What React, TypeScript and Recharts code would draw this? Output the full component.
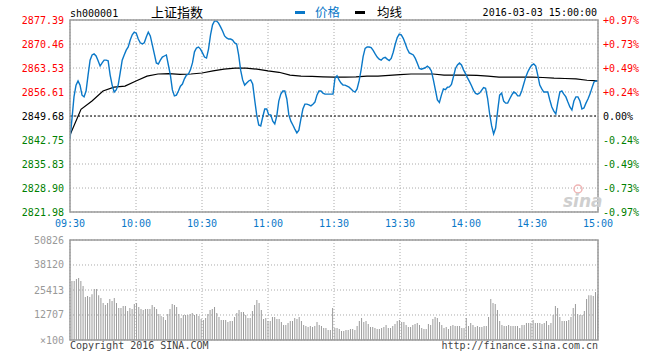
import React from "react";
import {
  LineChart,
  Line,
  BarChart,
  Bar,
  XAxis,
  YAxis,
  CartesianGrid,
  ReferenceLine,
} from "recharts";

const MONO = '"DejaVu Sans Mono", "Liberation Mono", monospace';
const CJK = '"Noto Sans CJK SC", "Noto Sans", sans-serif';

const BLUE = "#0a78c8";
const UP = "#ff0000";
const DOWN = "#008000";

// previous close, the 0.00% line
const PREV_CLOSE = 2849.68;

const PRICE_TICKS = [2877.39, 2870.46, 2863.53, 2856.61, 2849.68, 2842.75, 2835.83, 2828.9, 2821.98];
const VOL_TICKS = [0, 12707, 25413, 38120, 50826];

// trading minutes from 09:30, lunch break folded out
const TIME_TICKS = [0, 30, 60, 90, 120, 150, 180, 210, 240];
const TIME_LABELS = ["09:30", "10:00", "10:30", "11:00", "11:30", "13:30", "14:00", "14:30", "15:00"];

// index price, sampled roughly every minute
const PRICE = [
  2843.0, 2849.0, 2855.3, 2858.6, 2859.8, 2858.6, 2855.7, 2855.2, 2856.9, 2861.5,
  2865.8, 2867.3, 2867.6, 2867.0, 2865.6, 2864.1, 2865.0, 2865.8, 2865.8, 2865.6,
  2861.5, 2858.6, 2856.6, 2857.2, 2858.6, 2862.1, 2865.8, 2867.3, 2868.7, 2869.6,
  2871.6, 2873.1, 2873.9, 2873.6, 2871.9, 2870.8, 2870.5, 2870.8, 2872.5, 2873.9,
  2872.8, 2870.2, 2867.6, 2865.0, 2864.7, 2865.8, 2866.7, 2867.0, 2867.3, 2864.4,
  2861.5, 2857.2, 2855.5, 2855.7, 2856.9, 2858.3, 2858.9, 2860.4, 2861.5, 2861.8,
  2863.0, 2865.0, 2868.2, 2869.3, 2869.6, 2869.0, 2867.9, 2866.7, 2866.4, 2869.0,
  2873.1, 2876.0, 2877.1, 2877.1, 2876.5, 2875.4, 2874.2, 2872.8, 2872.2, 2871.9,
  2871.9, 2871.6, 2870.8, 2870.5, 2867.3, 2862.9, 2860.1, 2858.6, 2859.2,
  2859.8, 2860.1, 2858.9, 2854.3, 2850.0, 2847.1, 2846.8, 2849.4, 2851.7, 2851.7,
  2850.0, 2850.0, 2848.2, 2847.4, 2849.7, 2854.0, 2856.0, 2856.9, 2856.9, 2854.6,
  2850.0, 2848.2, 2847.1, 2845.9, 2844.8, 2845.6, 2848.8, 2851.7, 2853.1, 2853.1,
  2852.9, 2852.6, 2853.1, 2853.7, 2855.7, 2856.9, 2856.9, 2856.3, 2856.0, 2856.0,
  2856.0, 2856.0, 2856.0, 2860.6, 2861.3, 2860.1, 2859.2, 2858.6, 2858.6, 2858.3,
  2858.0, 2857.5, 2856.9, 2856.6, 2857.5, 2859.8, 2863.0, 2866.8, 2869.2, 2869.6,
  2869.6, 2869.4, 2868.6, 2867.6, 2866.7, 2866.1, 2865.8, 2866.4, 2866.6, 2866.1,
  2865.7, 2866.3, 2868.1, 2870.4, 2872.3, 2873.3, 2873.1, 2872.1, 2870.6, 2869.0,
  2867.9, 2867.6, 2867.3, 2866.3, 2864.9, 2863.4,
  2863.2, 2863.4, 2863.6, 2864.1, 2863.6, 2862.7, 2860.1, 2857.2, 2854.3, 2853.6,
  2855.7, 2857.5, 2857.3, 2858.0, 2858.1, 2858.8, 2861.0, 2863.4, 2864.4, 2865.0,
  2864.4, 2863.0, 2861.9, 2860.7, 2859.6, 2858.4, 2857.1, 2856.2, 2856.0, 2856.3,
  2857.1, 2857.9, 2857.7, 2854.8, 2850.4, 2846.9, 2844.5, 2846.2, 2851.1, 2855.7,
  2856.3, 2854.0, 2853.4, 2853.4, 2854.6, 2855.7, 2856.6, 2856.3, 2855.5, 2855.5,
  2856.9, 2858.9, 2860.9, 2862.4, 2863.5, 2864.4, 2864.7, 2864.1, 2861.5, 2858.6,
  2857.5, 2856.6, 2856.6, 2856.6, 2854.3, 2852.3, 2851.1, 2850.3, 2853.7, 2856.6,
  2856.9, 2856.0, 2855.2, 2853.7, 2852.3, 2851.4, 2854.0, 2855.2, 2855.2, 2854.0,
  2851.7, 2852.0, 2853.4, 2854.6, 2856.0, 2857.8, 2859.5, 2859.8, 2859.8,
];

// average price line, every 5 minutes
const AVG = [
  2844.2, 2851.6, 2854.0, 2856.9, 2858.0, 2858.3, 2859.8, 2861.2, 2861.8, 2861.9,
  2861.7, 2861.8, 2862.1, 2862.7, 2863.2, 2863.5, 2863.5, 2863.2, 2862.7, 2862.3,
  2861.5, 2861.2, 2861.1, 2861.0, 2860.9, 2860.9, 2861.0, 2861.2, 2861.2, 2861.4,
  2861.6, 2861.8, 2861.8, 2861.8, 2861.5, 2861.5, 2861.5, 2861.4, 2861.2, 2860.9,
  2860.9, 2860.9, 2860.9, 2860.8, 2860.6, 2860.5, 2860.4, 2860.0, 2859.8,
];

// volume per minute (x100 shares)
const VOLUME = [
  30000, 30000, 31000, 31500, 30000, 27400, 21800, 22300, 21800, 23300,
  25900, 25900, 22800, 21300, 18800, 17800, 18800, 20800, 19800, 21300,
  18800, 16300, 16300, 17300, 17300, 14700, 16300, 15800, 18300, 18800,
  16800, 15800, 15200, 15800, 15800, 15800, 17800, 16800, 15800, 13200,
  12200, 11700, 10200, 13200, 15800, 18300, 17800, 16800, 13200, 11200,
  12700, 12700, 12700, 13200, 13700, 12700, 13200, 12200, 10700, 10200,
  11200, 13200, 15200, 15800, 16800, 13700, 11700, 10200, 10200, 10200,
  9200, 9700, 9700, 11700, 13700, 15200, 14200, 14200,
  12700, 11200, 11200, 14700, 17800, 20300, 18800, 15200, 10700, 11200,
  9700, 9700, 11700, 11700, 10700, 10700, 9200, 7600, 7600, 8700,
  9700, 9700, 11200, 10700, 11700, 9700, 7600, 7100, 6600, 7100,
  6600, 7100, 9200, 7600, 7100, 6100, 6100, 5100, 5100, 16300,
  6100, 6100, 5600, 4600, 4600, 5100, 5100, 5600, 5600, 5100,
  7100, 9700, 11200, 9200, 9700, 8100, 6600, 6600, 6100, 5600,
  5600, 6100, 6600, 7600, 6100, 6100, 7100, 8100, 9700, 10200,
  9200, 9200, 7600, 6600, 6600, 7600, 8100, 8700,
  7600, 6100, 5600, 5600, 8100, 7600, 10700, 11700, 11200, 9200,
  7600, 6100, 6600, 5600, 7100, 7600, 7100, 7100, 7100, 6100,
  6100, 11200, 7100, 8700, 7600, 6600, 7100, 6600, 6600, 7100,
  7100, 11700, 20800, 18800, 18300, 15200, 9700, 7600, 7100, 7100,
  7600, 7100, 7100, 7100, 7100, 6100, 7600, 7600, 8700, 8700,
  8700, 10200, 8700, 8700, 8700, 8100, 8700, 9700, 7600, 8700,
  12700, 17300, 16300, 11700, 9700, 9700, 9700, 10200, 11700, 16300,
  18300, 13200, 12700, 12700, 14700, 20800, 22800, 22800, 22300, 24400,
  22800,
];

const lineData = [
  ...PRICE.map((p, i) => ({ t: (i * 240) / (PRICE.length - 1), price: p })),
  ...AVG.map((a, i) => ({ t: (i * 240) / (AVG.length - 1), avg: a })),
].sort((a, b) => a.t - b.t);

const volData = VOLUME.map((v, i) => ({ t: ((i + 0.7) * 240) / VOLUME.length, vol: v }));

function priceColor(v: number) {
  if (Math.abs(v - PREV_CLOSE) < 0.005) return "#000";
  return v > PREV_CLOSE ? UP : DOWN;
}

function pctLabel(v: number) {
  const p = ((v - PREV_CLOSE) / PREV_CLOSE) * 100;
  if (Math.abs(p) < 0.005) return "0.00%";
  return (p > 0 ? "+" : "") + p.toFixed(2) + "%";
}

const LeftTick = (props: any) => {
  const { x, y, payload } = props;
  return (
    <text x={x} y={y} dy={3.5} textAnchor="end" fontFamily={MONO} fontSize={10} fill={priceColor(payload.value)}>
      {payload.value.toFixed(2)}
    </text>
  );
};

const RightTick = (props: any) => {
  const { x, y, payload } = props;
  return (
    <text x={x} y={y} dy={3.5} textAnchor="start" fontFamily={MONO} fontSize={10} fill={priceColor(payload.value)}>
      {pctLabel(payload.value)}
    </text>
  );
};

const TimeTick = (props: any) => {
  const { x, y, payload, index } = props;
  return (
    <text x={x} y={y} dy={15} textAnchor="middle" fontFamily={MONO} fontSize={10} fill={BLUE}>
      {TIME_LABELS[index] ?? ""}
    </text>
  );
};

const VolTick = (props: any) => {
  const { x, y, payload } = props;
  return (
    <text x={x} y={y} dy={3.5} textAnchor="end" fontFamily={MONO} fontSize={10} fill="#999">
      {payload.value === 0 ? "×100" : String(payload.value)}
    </text>
  );
};

export default function App() {
  return (
    <div style={{ position: "absolute", left: 0, top: 0, width: 660, height: 360, background: "#fff" }}>
      <div style={{ position: "absolute", left: 0, top: 0 }}>
        <LineChart width={660} height={232} data={lineData} margin={{ top: 20, right: 0, bottom: 0, left: 0 }}>
          <CartesianGrid yAxisId="left" stroke="#aaa" strokeDasharray="1 2" />
          <XAxis
            dataKey="t"
            type="number"
            domain={[0, 240]}
            ticks={TIME_TICKS}
            interval={0}
            height={20}
            axisLine={false}
            tickLine={false}
            tickSize={0}
            tickMargin={0}
            tick={<TimeTick />}
            allowDataOverflow
          />
          <YAxis
            yAxisId="left"
            domain={[PRICE_TICKS[8], PRICE_TICKS[0]]}
            ticks={PRICE_TICKS}
            interval={0}
            width={70}
            axisLine={false}
            tickLine={false}
            tickSize={0}
            tickMargin={6}
            tick={<LeftTick />}
            allowDataOverflow
          />
          <YAxis
            yAxisId="right"
            orientation="right"
            domain={[PRICE_TICKS[8], PRICE_TICKS[0]]}
            ticks={PRICE_TICKS}
            interval={0}
            width={62}
            axisLine={false}
            tickLine={false}
            tickSize={0}
            tickMargin={5}
            tick={<RightTick />}
            allowDataOverflow
          />
          <ReferenceLine yAxisId="left" y={PREV_CLOSE} stroke="#000" strokeDasharray="2 2" />
          <Line
            yAxisId="left"
            type="linear"
            dataKey="avg"
            stroke="#000"
            strokeWidth={1.2}
            dot={false}
            connectNulls
            isAnimationActive={false}
          />
          <Line
            yAxisId="left"
            type="linear"
            dataKey="price"
            stroke={BLUE}
            strokeWidth={1.4}
            dot={false}
            connectNulls
            isAnimationActive={false}
          />
        </LineChart>
      </div>

      <div style={{ position: "absolute", left: 0, top: 232 }}>
        <BarChart width={660} height={128} data={volData} margin={{ top: 8, right: 62, bottom: 20, left: 0 }}>
          <CartesianGrid stroke="#aaa" strokeDasharray="1 2" />
          <XAxis dataKey="t" type="number" domain={[0, 240]} ticks={TIME_TICKS} interval={0} hide allowDataOverflow />
          <YAxis
            domain={[0, VOL_TICKS[4]]}
            ticks={VOL_TICKS}
            interval={0}
            width={70}
            axisLine={false}
            tickLine={false}
            tickSize={0}
            tickMargin={6}
            tick={<VolTick />}
            allowDataOverflow
          />
          <Bar dataKey="vol" fill="#9a9a9a" barSize={1} isAnimationActive={false} />
        </BarChart>
      </div>

      <svg width={660} height={360} style={{ position: "absolute", left: 0, top: 0, pointerEvents: "none" }}>
        <rect x={70} y={20} width={528} height={192} fill="none" stroke="#9a9a9a" strokeWidth={1.5} />
        <rect x={70} y={240} width={528} height={100} fill="none" stroke="#9a9a9a" strokeWidth={1.5} />

        <text x={70} y={16.5} fontFamily={MONO} fontSize={10} fill="#000">sh000001</text>
        <text x={151} y={17} fontFamily={CJK} fontSize={13} fill="#000">上证指数</text>
        <rect x={295} y={11} width={10} height={3} fill={BLUE} />
        <text x={315} y={17} fontFamily={CJK} fontSize={12.5} fill={BLUE}>价格</text>
        <rect x={355} y={11} width={10} height={3} fill="#000" />
        <text x={377} y={17} fontFamily={CJK} fontSize={12.5} fill="#000">均线</text>
        <text x={597} y={16} textAnchor="end" fontFamily={MONO} fontSize={10} fill="#000">2016-03-03 15:00:00</text>

        <circle cx={578} cy={189} r={4} fill="none" stroke="#f0b4b4" strokeWidth={1.5} />
        <text x={563} y={207} fontFamily='"DejaVu Sans", sans-serif' fontSize={17} fontStyle="italic" fontWeight="bold" fill="#cfcfcf">sina</text>

        <text x={70} y={349} fontFamily={MONO} fontSize={10} fill="#444">Copyright 2016 SINA.COM</text>
        <text x={598} y={349} textAnchor="end" fontFamily={MONO} fontSize={10} fill="#444">http://finance.sina.com.cn</text>
      </svg>
    </div>
  );
}
